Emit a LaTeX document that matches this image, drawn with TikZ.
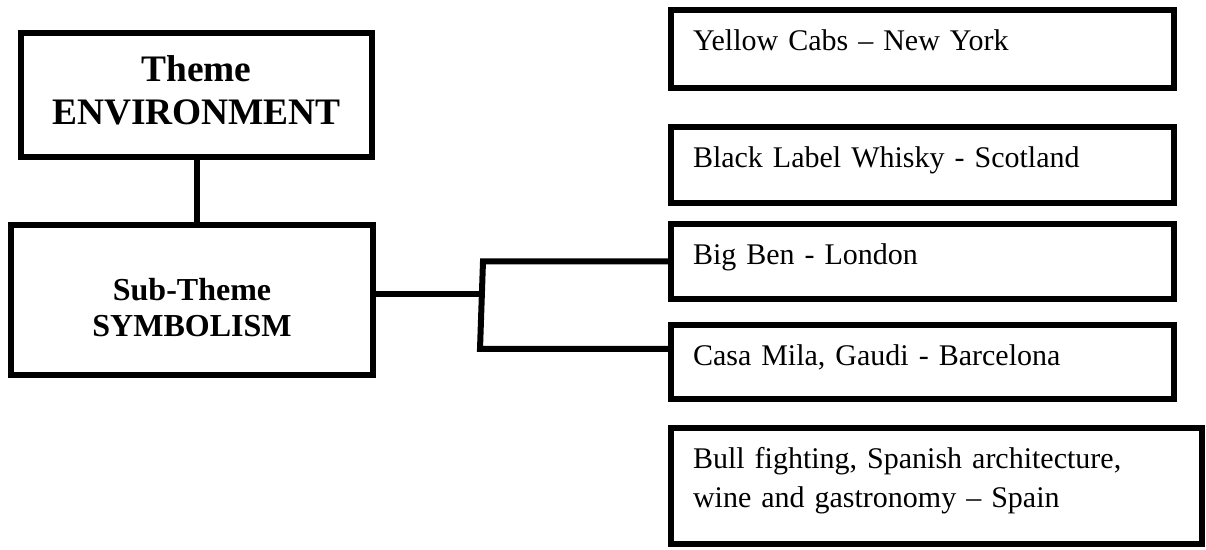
\documentclass[tikz,border=0pt]{standalone}
\usepackage{fontspec}
\setmainfont{Liberation Serif}
\usetikzlibrary{positioning}

\begin{document}
\begin{tikzpicture}[x=0.5pt, y=-0.5pt,
    theme/.style={draw, line width=3pt, anchor=north west, align=center},
    place/.style={draw, line width=3pt, anchor=north west, align=left, inner xsep=11pt, inner ysep=0pt,
        text width=229.5pt, text height=20.5pt, font=\fontsize{15}{19.5}\selectfont},
    link/.style={line width=3pt, line join=miter}]
    \useasboundingbox (0,0) rectangle (1206,550);

    % Theme and sub-theme
    \node[theme, minimum width=175.5pt, minimum height=62pt, text depth=5pt,
        font=\fontsize{18.7}{21.5}\selectfont\bfseries] (env) at (18,30) {Theme\\ENVIRONMENT};
    \node[theme, minimum width=181pt, minimum height=75pt, text height=37pt, text depth=0pt,
        font=\fontsize{16}{18}\selectfont\bfseries] (sym) at (8,222) {Sub-Theme\\SYMBOLISM};

    % Places
    \node[place, text depth=18.5pt] (nyc) at (668,7) {Yellow Cabs -- New York};
    \node[place, text depth=17.5pt] (scot) at (668,124) {Black Label Whisky - Scotland};
    \node[place, text depth=17pt] (london) at (668,221) {Big Ben - London};
    \node[place, text depth=16.5pt] (barca) at (668,322) {Casa Mila, Gaudi - Barcelona};
    \node[place, text width=243.5pt, text depth=37.5pt] (spain) at (668,425)
        {Bull fighting, Spanish architecture,\\wine and gastronomy -- Spain};

    % Links
    \coordinate (fork) at (482,294);
    \coordinate (forktop) at (483,261);
    \coordinate (forkbot) at (480,349);
    \draw[link] (env.south) -- (env.south |- sym.north);
    \draw[link] (sym.east |- fork) -- (fork);
    \draw[link] (london.west) -- (forktop |- london.west) -- (forkbot) -- (forkbot -| barca.west);
\end{tikzpicture}
\end{document}
